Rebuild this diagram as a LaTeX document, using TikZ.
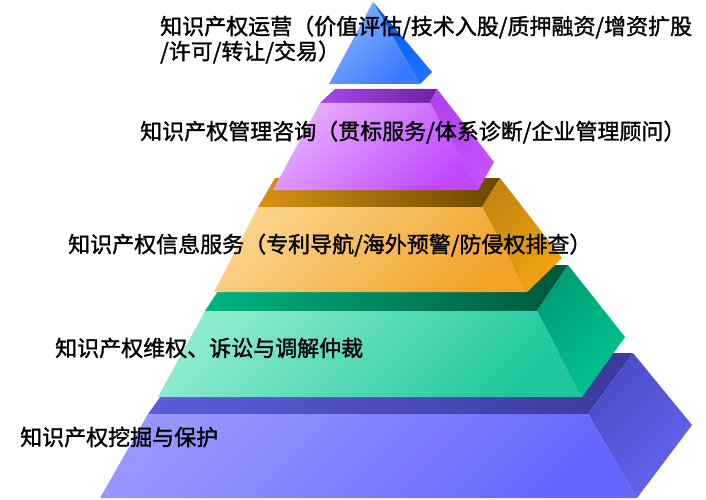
\documentclass[tikz,border=0pt]{standalone}
\usepackage{fontspec}
\setmainfont{Noto Sans CJK SC}[FakeBold=1.4]
\usepackage{tikz}

\definecolor{baseTopA}{HTML}{5C5CDC}
\definecolor{baseTopB}{HTML}{3A3A9C}
\definecolor{baseSideA}{HTML}{4C4CC8}
\definecolor{baseSideB}{HTML}{6464F0}
\definecolor{baseFrontA}{HTML}{9696FF}
\definecolor{baseFrontB}{HTML}{6666FF}
\definecolor{greenTopA}{HTML}{00B484}
\definecolor{greenTopB}{HTML}{00553A}
\definecolor{greenSideA}{HTML}{009E76}
\definecolor{greenSideB}{HTML}{00C490}
\definecolor{greenFrontA}{HTML}{8CEACE}
\definecolor{greenFrontB}{HTML}{1EC89C}
\definecolor{orangeTopA}{HTML}{D89212}
\definecolor{orangeTopB}{HTML}{6A4600}
\definecolor{orangeSideA}{HTML}{C48610}
\definecolor{orangeSideB}{HTML}{F0A410}
\definecolor{orangeFrontA}{HTML}{FAD28A}
\definecolor{orangeFrontB}{HTML}{F2A428}
\definecolor{purpleTopA}{HTML}{A848E8}
\definecolor{purpleTopB}{HTML}{6E22A0}
\definecolor{purpleSideA}{HTML}{B244EC}
\definecolor{purpleSideB}{HTML}{C450FF}
\definecolor{purpleFrontA}{HTML}{E6ACFF}
\definecolor{purpleFrontB}{HTML}{C048FF}
\definecolor{apexSideA}{HTML}{005CE6}
\definecolor{apexSideB}{HTML}{1E70FF}
\definecolor{apexFrontA}{HTML}{84B2FF}
\definecolor{apexFrontB}{HTML}{3878FF}

\begin{document}
\begin{tikzpicture}[x=1pt, y=-1pt,
    label/.style={anchor=west, inner sep=0pt, align=left, font=\fontsize{22}{25}\selectfont},
    face/.style 2 args={top color=#1, bottom color=#2, shading angle=45},
    lid/.style 2 args={left color=#1, right color=#2}]

    \useasboundingbox (0,0) rectangle (706,500);

    % bottom layer
    \shade[lid={baseTopA}{baseTopB}]
        (148,414) -- (588,414) -- (633,353) -- (192,353) -- cycle;
    \shade[face={baseSideA}{baseSideB}]
        (588,414) -- (633,353) -- (692,425) -- (637,498) -- cycle;
    \shade[face={baseFrontA}{baseFrontB}]
        (148,414) -- (588,414) -- (637,498) -- (100,498) -- cycle;

    % green layer
    \shade[lid={greenTopA}{greenTopB}]
        (205,311) -- (537,311) -- (568,265) -- (235,265) -- cycle;
    \shade[face={greenSideA}{greenSideB}]
        (537,311) -- (568,265) -- (625,337) -- (582,397) -- cycle;
    \shade[face={greenFrontA}{greenFrontB}]
        (205,311) -- (537,311) -- (582,397) -- (158,397) -- cycle;

    % orange layer
    \shade[lid={orangeTopA}{orangeTopB}]
        (258,207) -- (482,207) -- (500,178) -- (275,178) -- cycle;
    \shade[face={orangeSideA}{orangeSideB}]
        (482,207) -- (500,178) -- (562,258) -- (527,292) -- cycle;
    \shade[face={orangeFrontA}{orangeFrontB}]
        (258,207) -- (482,207) -- (527,292) -- (214,292) -- cycle;

    % purple layer
    \shade[lid={purpleTopA}{purpleTopB}]
        (320,103) -- (430,103) -- (437,89) -- (335,89) -- cycle;
    \shade[face={purpleSideA}{purpleSideB}]
        (430,103) -- (437,89) -- (494,162) -- (478,190) -- cycle;
    \shade[face={purpleFrontA}{purpleFrontB}]
        (320,103) -- (430,103) -- (478,190) -- (273,190) -- cycle;

    % top
    \shade[face={apexSideA}{apexSideB}]
        (373,2) -- (432,72) -- (420,84) -- cycle;
    \shade[face={apexFrontA}{apexFrontB}]
        (373,2) -- (420,84) -- (329,84) -- cycle;

    \node[label] (yunying) at (160,39.5) {知识产权运营（价值评估/技术入股/质押融资/增资扩股\\/许可/转让/交易）};
    \node[label] (zixun)   at (140,132) {知识产权管理咨询（贯标服务/体系诊断/企业管理顾问）};
    \node[label] (xinxi)   at (68,245)  {知识产权信息服务（专利导航/海外预警/防侵权排查）};
    \node[label] (weiquan) at (55,348)  {知识产权维权、诉讼与调解仲裁};
    \node[label] (wajue)   at (20,437)  {知识产权挖掘与保护};
\end{tikzpicture}
\end{document}
